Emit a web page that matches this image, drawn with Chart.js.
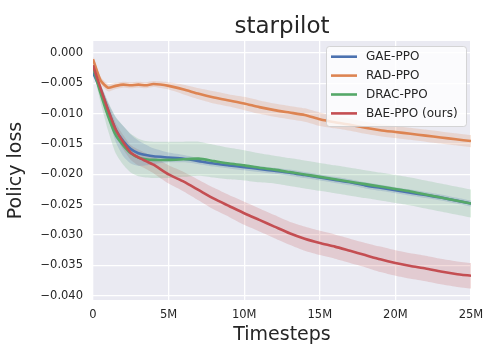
<!DOCTYPE html>
<html>
<head>
<meta charset="utf-8">
<script src="https://cdn.jsdelivr.net/npm/chart.js@4"></script>
<style>
    html, body { margin: 0; padding: 0; background: #ffffff; }
</style>
</head>
<body>
<canvas id="chart" width="498" height="360"></canvas>
<script>
// timesteps in millions
var steps = [0, 0.5, 1, 1.5, 2, 2.5, 3, 3.5, 4, 5, 6, 7, 8, 9, 10, 11, 12, 13, 14, 15, 16, 17, 18, 19, 20, 21, 22, 23, 24, 25];

var gaePpo = [-0.0032, -0.0060, -0.0094, -0.0126, -0.0145, -0.0158, -0.0165, -0.0168, -0.0170, -0.0172, -0.0174, -0.0178, -0.0182, -0.0185, -0.0188, -0.0191, -0.0194, -0.0197, -0.0201, -0.0205, -0.0209, -0.0213, -0.0218, -0.0222, -0.0226, -0.0230, -0.0234, -0.0238, -0.0243, -0.0248];
var gaeSpread = [0.0003, 0.0008, 0.0012, 0.0020, 0.0025, 0.0024, 0.0021, 0.0017, 0.0013, 0.0008, 0.0006, 0.0005, 0.0005, 0.0005, 0.0005, 0.0005, 0.0005, 0.0005, 0.0005, 0.0005, 0.0005, 0.0005, 0.0005, 0.0005, 0.0005, 0.0005, 0.0005, 0.0005, 0.0005, 0.0005];

var radPpo = [-0.0010, -0.0045, -0.0057, -0.0054, -0.0052, -0.0053, -0.0052, -0.0053, -0.0051, -0.0054, -0.0060, -0.0067, -0.0073, -0.0078, -0.0083, -0.0089, -0.0094, -0.0098, -0.0102, -0.0109, -0.0114, -0.0118, -0.0123, -0.0127, -0.0130, -0.0133, -0.0136, -0.0139, -0.0142, -0.0145];
var radSpread = [0.0004, 0.0006, 0.0006, 0.0005, 0.0005, 0.0005, 0.0005, 0.0005, 0.0005, 0.0006, 0.0008, 0.0009, 0.0010, 0.0010, 0.0011, 0.0011, 0.0011, 0.0011, 0.0011, 0.0011, 0.0010, 0.0010, 0.0010, 0.0010, 0.0010, 0.0010, 0.0010, 0.0010, 0.0010, 0.0010];

var dracPpo = [-0.0022, -0.0066, -0.0104, -0.0135, -0.0152, -0.0165, -0.0172, -0.0175, -0.0176, -0.0176, -0.0175, -0.0174, -0.0178, -0.0182, -0.0185, -0.0189, -0.0192, -0.0196, -0.0200, -0.0204, -0.0208, -0.0212, -0.0216, -0.0220, -0.0224, -0.0228, -0.0233, -0.0238, -0.0243, -0.0248];
var dracSpread = [0.0005, 0.0015, 0.0024, 0.0030, 0.0032, 0.0032, 0.0031, 0.0030, 0.0030, 0.0030, 0.0029, 0.0028, 0.0027, 0.0026, 0.0025, 0.0024, 0.0023, 0.0023, 0.0023, 0.0023, 0.0023, 0.0023, 0.0023, 0.0023, 0.0023, 0.0023, 0.0023, 0.0023, 0.0023, 0.0023];

var baePpo = [-0.0020, -0.0058, -0.0094, -0.0126, -0.0147, -0.0164, -0.0172, -0.0178, -0.0184, -0.0200, -0.0212, -0.0226, -0.0240, -0.0252, -0.0264, -0.0275, -0.0286, -0.0297, -0.0306, -0.0313, -0.0319, -0.0326, -0.0333, -0.0340, -0.0346, -0.0351, -0.0355, -0.0360, -0.0364, -0.0367];
var baeSpread = [0.0004, 0.0008, 0.0010, 0.0011, 0.0012, 0.0012, 0.0013, 0.0013, 0.0014, 0.0015, 0.0016, 0.0017, 0.0018, 0.0018, 0.0019, 0.0019, 0.0019, 0.0019, 0.0020, 0.0020, 0.0020, 0.0020, 0.0020, 0.0021, 0.0021, 0.0021, 0.0021, 0.0021, 0.0021, 0.0021];

var xTicks = [0, 5, 10, 15, 20, 25];
var yTicks = [0, -0.005, -0.010, -0.015, -0.020, -0.025, -0.030, -0.035, -0.040];

var series = [
    { label: 'GAE-PPO', mean: gaePpo, spread: gaeSpread, color: '76,114,176' },
    { label: 'RAD-PPO', mean: radPpo, spread: radSpread, color: '221,132,82' },
    { label: 'DRAC-PPO', mean: dracPpo, spread: dracSpread, color: '85,168,104' },
    { label: 'BAE-PPO (ours)', mean: baePpo, spread: baeSpread, color: '196,78,82' }
];

const textColor = '#262626';
Chart.defaults.font.family = "'DejaVu Sans', sans-serif";
Chart.defaults.color = textColor;

function points(values, spread, sign) {
    return steps.map((x, i) => ({ x: x, y: values[i] + sign * spread[i] }));
}

var datasets = [];
series.forEach(s => {
    datasets.push({
        data: points(s.mean, s.spread, 1),
        band: true, borderWidth: 0, pointRadius: 0, fill: false, tension: 0.2, order: 10
    });
    datasets.push({
        data: points(s.mean, s.spread, -1),
        band: true, borderWidth: 0, pointRadius: 0, fill: '-1', tension: 0.2, order: 10,
        backgroundColor: 'rgba(' + s.color + ',0.2)'
    });
});
series.forEach((s, i) => {
    datasets.push({
        label: s.label,
        data: points(s.mean, s.spread, 0),
        borderColor: 'rgb(' + s.color + ')',
        borderWidth: 2.6,
        pointRadius: 0,
        fill: false,
        tension: 0.2,
        order: 4 - i
    });
});

const plotBackground = {
    id: 'plotBackground',
    beforeDraw(chart) {
        const { ctx, chartArea: { left, top, width, height } } = chart;
        ctx.save();
        ctx.fillStyle = '#EAEAF2';
        ctx.fillRect(left, top, width, height);
        ctx.restore();
    }
};

// legend box inside the plot, upper right
const boxLegend = {
    id: 'boxLegend',
    afterDraw(chart) {
        const { ctx, chartArea } = chart;
        const items = chart.data.datasets.filter(d => !d.band);
        const w = 140, h = 80;
        const x0 = chartArea.right - 5 - w;
        const y0 = chartArea.top + 5;

        ctx.save();
        ctx.beginPath();
        ctx.roundRect(x0 + 0.5, y0 + 0.5, w, h, 3);
        ctx.fillStyle = 'rgba(255,255,255,0.8)';
        ctx.fill();
        ctx.strokeStyle = 'rgba(204,204,204,0.8)';
        ctx.lineWidth = 1;
        ctx.stroke();

        ctx.font = "12px 'DejaVu Sans'";
        ctx.textBaseline = 'middle';
        ctx.fillStyle = textColor;
        items.forEach((d, i) => {
            const yy = y0 + 10.7 + i * 18.9;
            ctx.beginPath();
            ctx.strokeStyle = d.borderColor;
            ctx.lineWidth = 2.6;
            ctx.moveTo(x0 + 5, yy);
            ctx.lineTo(x0 + 31, yy);
            ctx.stroke();
            ctx.fillText(d.label, x0 + 40, yy);
        });
        ctx.restore();
    }
};

function yLabel(v) {
    if (v === 0) return '0.000';
    return (v < 0 ? '\u2212' : '') + Math.abs(v).toFixed(3);
}

new Chart(document.getElementById('chart'), {
    type: 'line',
    data: { datasets: datasets },
    options: {
        responsive: false,
        animation: false,
        layout: { padding: { left: 0, right: 27, top: 0, bottom: 0 } },
        plugins: {
            legend: { display: false },
            tooltip: { enabled: false },
            title: {
                display: true,
                text: 'starpilot',
                fullSize: false,
                color: textColor,
                font: { size: 23, weight: 'normal', lineHeight: 1 },
                padding: { top: 16, bottom: 2 }
            }
        },
        scales: {
            x: {
                type: 'linear',
                min: 0,
                max: 25,
                afterBuildTicks: s => { s.ticks = xTicks.map(v => ({ value: v })); },
                afterFit: s => { s.height = 60; },
                grid: { color: '#ffffff', lineWidth: 1.3, drawTicks: false },
                border: { display: false },
                ticks: {
                    padding: 8,
                    color: textColor,
                    font: { size: 11.5 },
                    maxRotation: 0,
                    callback: v => v === 0 ? '0' : v + 'M'
                },
                title: {
                    display: true,
                    text: 'Timesteps',
                    color: textColor,
                    font: { size: 19 },
                    padding: { top: 0, bottom: 14 }
                }
            },
            y: {
                min: -0.0407,
                max: 0.002,
                afterBuildTicks: s => { s.ticks = yTicks.map(v => ({ value: v })); },
                afterFit: s => { s.width = 93; },
                grid: { color: '#ffffff', lineWidth: 1.3, drawTicks: false },
                border: { display: false },
                ticks: {
                    padding: 10,
                    color: textColor,
                    font: { size: 11.5 },
                    callback: v => yLabel(v)
                },
                title: {
                    display: true,
                    text: 'Policy loss',
                    color: textColor,
                    font: { size: 19 },
                    padding: { top: 5, bottom: 0 }
                }
            }
        }
    },
    plugins: [plotBackground, boxLegend]
});
</script>
</body>
</html>
